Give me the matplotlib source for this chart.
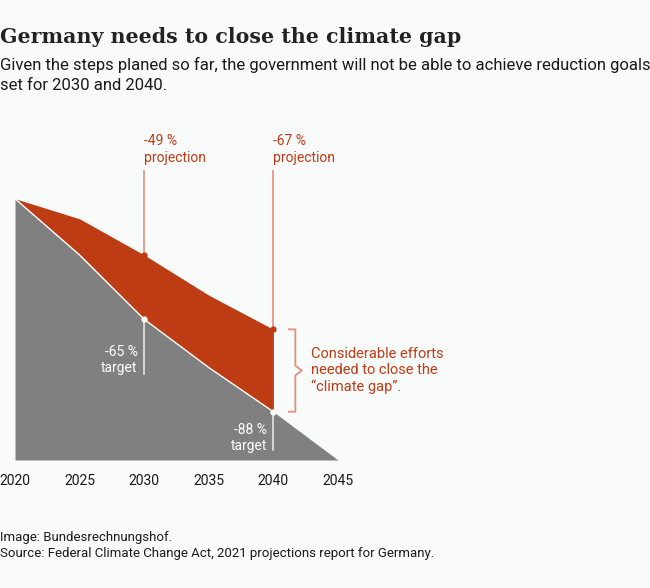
import matplotlib.pyplot as plt
import numpy as np

# data (emission reduction vs 1990, %)
years = [2020, 2025, 2030, 2035, 2040, 2045]
target = [-35, -49, -65, -77, -88, -100]
proj_years = [2020, 2025, 2030, 2035, 2040]
projection = [-35, -40, -49, -59, -67.5]
tick_labels = ["2020", "2025", "2030", "2035", "2040", "2045"]

RED = "#BE3C14"
LIGHT_RED = "#E0907A"
GRAY = "#808080"
BG = "#F9FAFA"
TXT = "#1a1a1a"

plt.rcParams['font.family'] = ['Roboto', 'DejaVu Sans']

W, H = 650, 588
fig = plt.figure(figsize=(W / 100, H / 100), dpi=100, facecolor=BG)

# axes placed so 2020..2045 spans px 15..338 and 0..-100 % spans px 58..460
x0, x1 = 15, 338
y0, y1 = 58, 460
ax = fig.add_axes([x0 / W, 1 - y1 / H, (x1 - x0) / W, (y1 - y0) / H])
ax.set_facecolor(BG)
ax.set_xlim(2020, 2045)
ax.set_ylim(-100, 0)
for s in ax.spines.values():
    s.set_visible(False)
ax.set_yticks([])
ax.set_xticks(years)
ax.set_xticklabels(tick_labels, fontsize=10, color=TXT)
ax.tick_params(axis='x', length=0, pad=10)

# gray area under target path
ax.fill_between(years, target, -100, color=GRAY, linewidth=0)
# red gap between projection and target
t_sub = target[:len(proj_years)]
ax.fill_between(proj_years, projection, t_sub, color=RED, linewidth=0)
ax.plot(proj_years, t_sub, color="white", lw=1)

# leader lines and dots
for yr, p in [(2030, projection[2]), (2040, projection[4])]:
    ax.plot([yr, yr], [p, -28], color=LIGHT_RED, lw=1.2, clip_on=False)
    ax.plot(yr, p, 'o', color=RED, ms=3.5, clip_on=False)
ax.plot([2030, 2030], [target[2], -78.5], color="#e6e6e6", lw=1.2)
ax.plot([2040, 2040], [target[4], -97.5], color="#e6e6e6", lw=1.2)
ax.plot([2030, 2040], [target[2], target[4]], 'o', color="white", ms=3.5, ls='none')

# labels
lab_kw = dict(fontsize=10, linespacing=1.25, clip_on=False)
ax.text(2030.0, -26.5, "-49 %\nprojection", color=RED, ha='left', va='bottom', **lab_kw)
ax.text(2040.0, -26.5, "-67 %\nprojection", color=RED, ha='left', va='bottom', **lab_kw)
ax.text(2029.5, -71.3, "-65 %\ntarget", color="white", ha='right', va='top', **lab_kw)
ax.text(2039.5, -90.7, "-88 %\ntarget", color="white", ha='right', va='top', **lab_kw)

# bracket for the gap
bt, bb = projection[4], target[4]
bm = (bt + bb) / 2
bx = [2041.2, 2041.7, 2041.7, 2042.2, 2041.7, 2041.7, 2041.2]
by = [bt, bt, bm + 1.2, bm, bm - 1.2, bb, bb]
ax.plot(bx, by, color=LIGHT_RED, lw=1.3, clip_on=False)
ax.text(2042.9, bm, "Considerable efforts\nneeded to close the\n\u201cclimate gap\u201d.",
        color=RED, ha='left', va='center', fontsize=10.5, linespacing=1.2, clip_on=False)

# title, subtitle, footer
fig.text(0, 1 - 37 / H, "Germany needs to close the climate gap", family="DejaVu Serif",
         fontweight='bold', fontsize=14.8, color="#222222", va='center', ha='left')
fig.text(0, 1 - 65 / H, "Given the steps planed so far, the government will not be able to achieve reduction goals",
         fontsize=12, color=TXT, va='center', ha='left')
fig.text(0, 1 - 85 / H, "set for 2030 and 2040.",
         fontsize=12, color=TXT, va='center', ha='left')
fig.text(0, 1 - 537 / H, "Image: Bundesrechnungshof.", fontsize=9.5, color=TXT, va='center')
fig.text(0, 1 - 554 / H, "Source: Federal Climate Change Act, 2021 projections report for Germany.",
         fontsize=9.5, color=TXT, va='center')

fig.savefig("out.png", dpi=100, facecolor=BG)
